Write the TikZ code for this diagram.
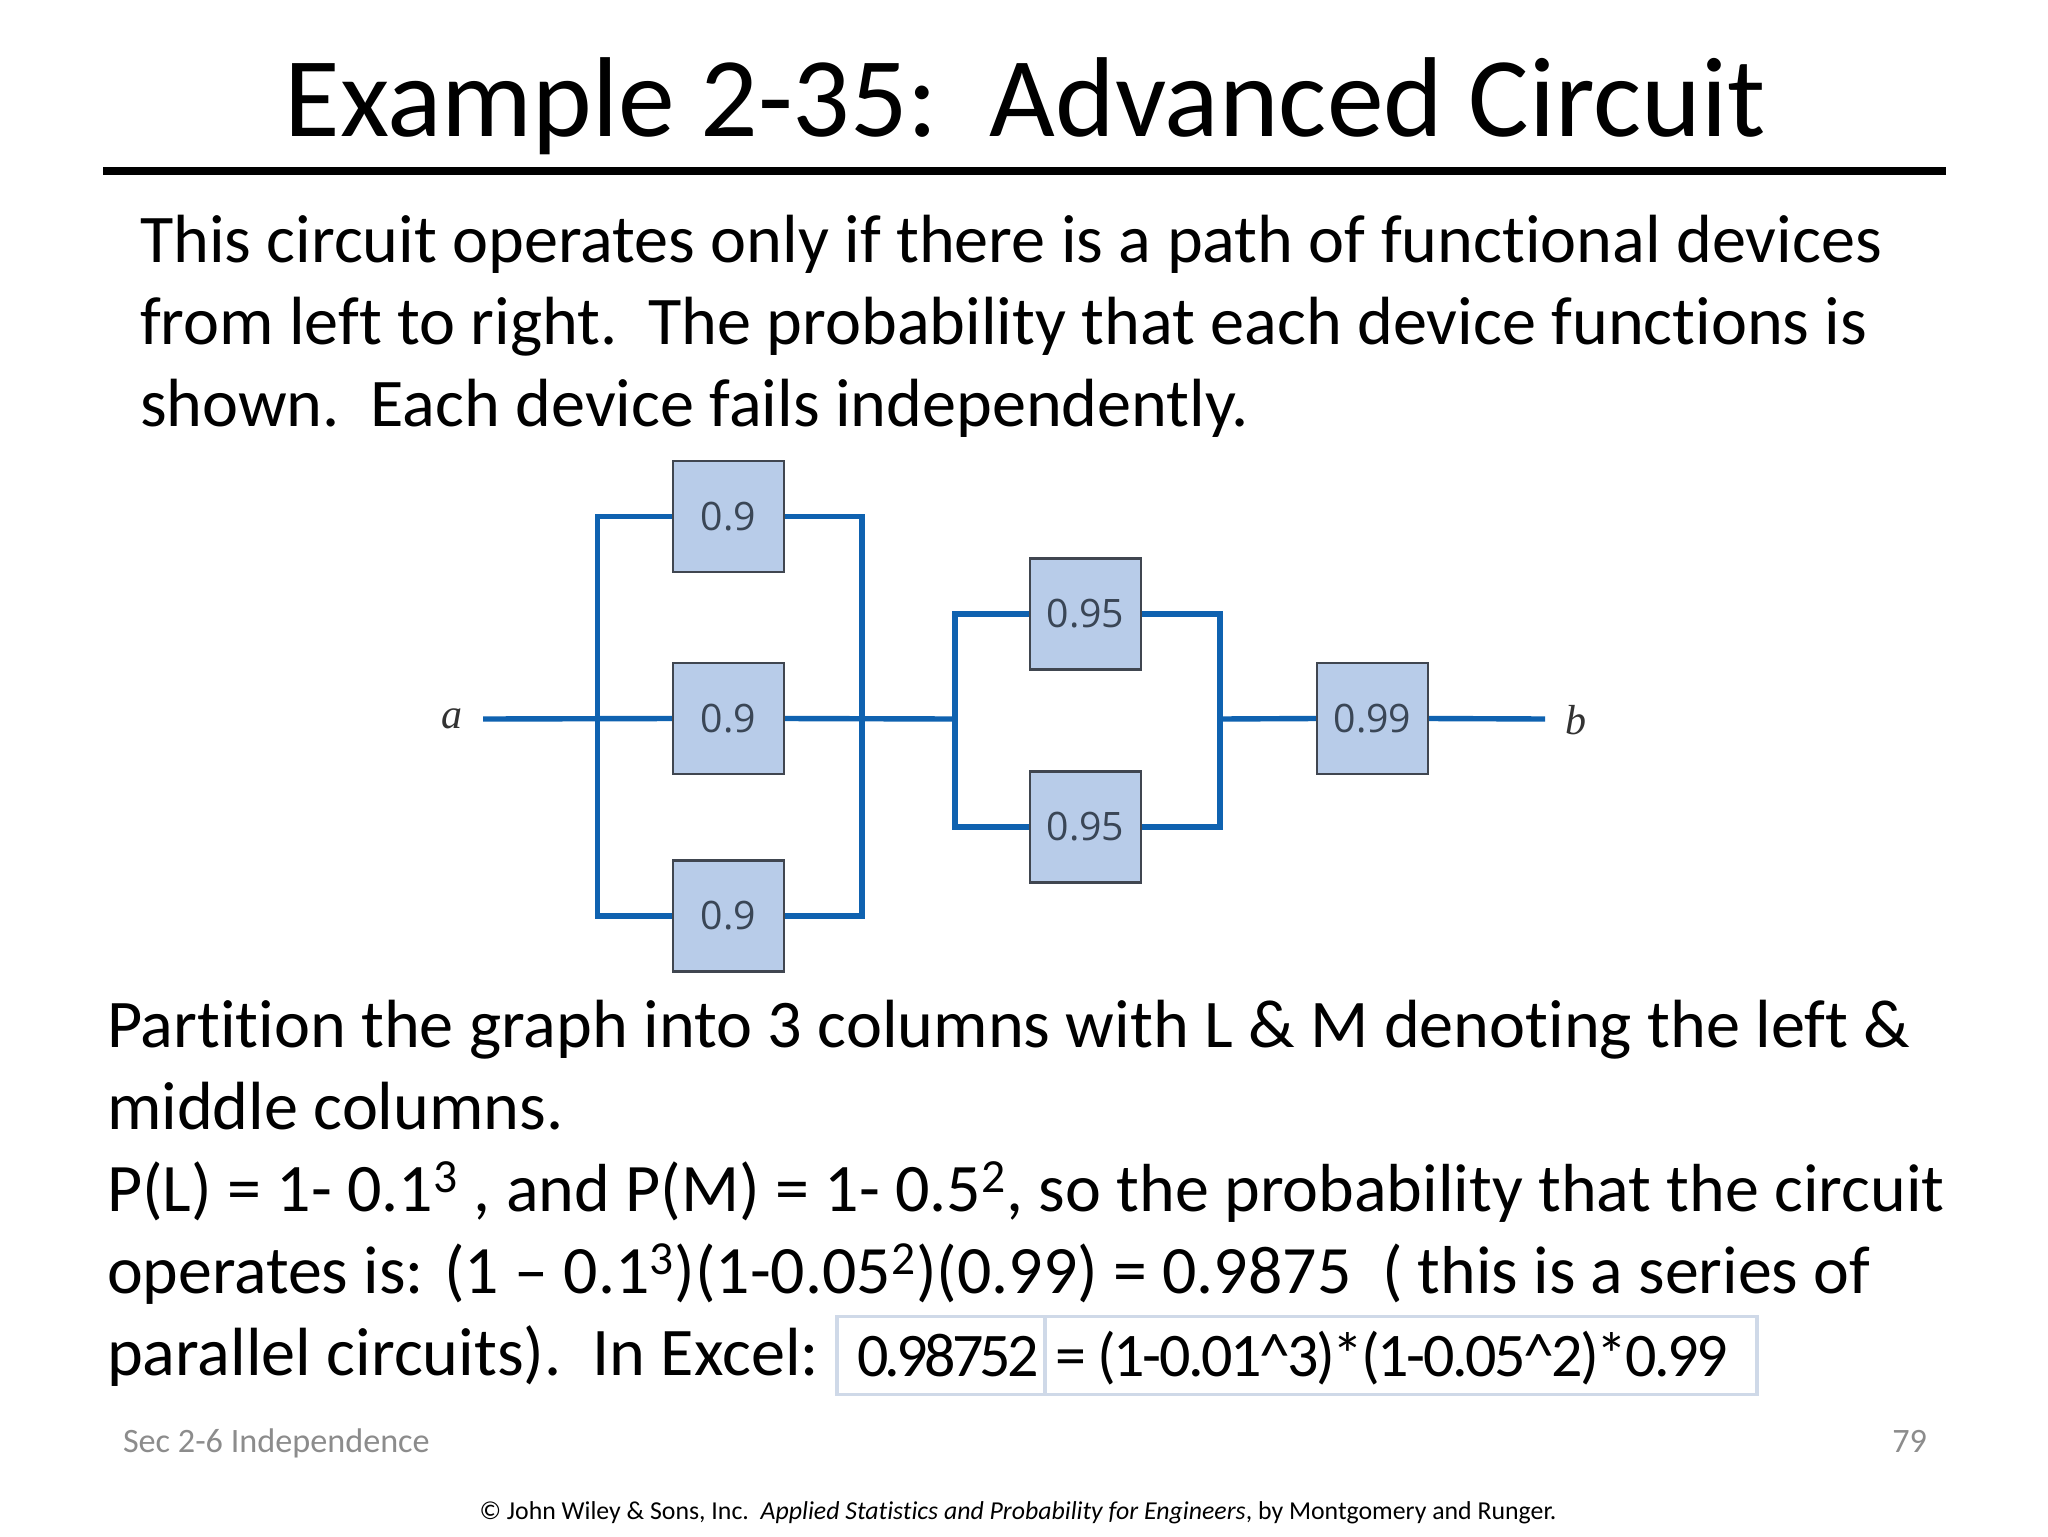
\documentclass[tikz,border=0pt]{standalone}
\usepackage{fontspec}
\setmainfont[Ligatures=NoCommon]{Carlito}
\newfontfamily\boxfont{Open Sans}
\newfontfamily\serifit{Liberation Serif}
\newfontfamily\tightfont[LetterSpace=-4]{Carlito}
\newfontfamily\tighterfont[LetterSpace=-6]{Carlito}
\definecolor{wire}{HTML}{0F62B0}
\definecolor{boxfill}{HTML}{B8CCE9}
\definecolor{boxline}{HTML}{404650}
\definecolor{boxtext}{HTML}{3A4656}
\definecolor{cellline}{HTML}{CFD9E8}
\definecolor{footgray}{HTML}{8C8C8C}
\newcommand{\fsz}[1]{\fontsize{#1}{#1}\selectfont}
\newcommand{\dsp}{\ \ }
\tikzset{
  txt/.style={anchor=base west,inner sep=0pt,outer sep=0pt,font=\fsz{34.1}},
  device/.style={draw=boxline,fill=boxfill,line width=1.2pt,minimum width=55.5pt,minimum height=55.5pt,inner sep=0pt,text=boxtext,font=\boxfont\fsz{19.6}},
  conn/.style={draw=wire,line width=2.7pt,line join=miter},
  term/.style={inner sep=0pt,text=black!80,font=\serifit\itshape\fsz{21}},
  foot/.style={inner sep=0pt,outer sep=0pt,font=\fsz{17.1},text=footgray},
  cell/.style={draw=cellline,line width=1.7pt,inner sep=0pt}
}
\begin{document}
\begin{tikzpicture}[x=0.5pt,y=-0.5pt]
\useasboundingbox (0,0) rectangle (2048,1536);
\fill[white] (0,0) rectangle (2048,1536);
% title
\node[anchor=base,inner sep=0pt,font=\fsz{56.8}] (title) at (1025,136) {Example 2-35:\dsp Advanced Circuit};
\coordinate (ruleL) at (103,171);
\coordinate (ruleR) at (1946,171);
\draw[line width=4pt] (ruleL) -- (ruleR);
% upper text
\node[txt] (t1) at (140,262) {This circuit operates only if there is a path of functional devices};
\node[txt] (t2) at (140,344) {from left to right.\dsp The probability that each device functions is};
\node[txt] (t3) at (140,426) {shown.\dsp Each device fails independently.};
% devices
\node[device] (L1) at (728.5,516.5) {0.9};
\node[device] (L2) at (728.5,718.5) {0.9};
\node[device] (L3) at (728.5,916) {0.9};
\node[device] (M1) at (1085.5,614) {0.95};
\node[device] (M2) at (1085.5,827) {0.95};
\node[device] (R)  at (1372.5,718.5) {0.99};
\node[term] (a) at (452,719) {a};
\node[term] (b) at (1576,720) {b};
\coordinate (aEnd) at (483,719);
\coordinate (bEnd) at (1545,719);
\coordinate (J1) at (597.5,719);
\coordinate (J2) at (862,719);
\coordinate (J3) at (955,719);
\coordinate (J4) at (1220,719);
% connectors
\draw[conn] (aEnd) -- (L2.west);
\draw[conn] (L2.east) -- (J3);
\draw[conn] (J4) -- (R.west);
\draw[conn] (R.east) -- (bEnd);
\draw[conn] (L1.west) -| (J1) |- (L3.west);
\draw[conn] (L1.east) -| (J2) |- (L3.east);
\draw[conn] (M1.west) -| (J3) |- (M2.west);
\draw[conn] (M1.east) -| (J4) |- (M2.east);
% lower text
\node[txt] (p1) at (107,1047) {Partition the graph into 3 columns with L \& M denoting the left \&};
\node[txt] (p2) at (107,1129) {middle columns.};
\node[txt,font=\fsz{34}] (p3) at (107,1211) {P(L) = 1- 0.1\textsuperscript{3} , and P(M) = 1- 0.5\textsuperscript{2}, so the probability that the circuit};
\node[txt,font=\fsz{33.9}] (p4) at (107,1293) {operates is: (1 – 0.1\textsuperscript{3})(1-0.05\textsuperscript{2})(0.99) = 0.9875\dsp ( this is a series of};
\node[txt] (p5) at (107,1375) {parallel circuits).\dsp In Excel:};
% excel cells
\node[cell,minimum width=104pt,minimum height=39pt] (c1) at (941,1355.5) {};
\node[cell,minimum width=356pt,minimum height=39pt] (c2) at (1401,1355.5) {};
\node[txt,font=\tighterfont\fsz{31}] (v1) at (857,1376) {0.98752};
\node[txt,font=\tightfont\fsz{31}] (v2) at (1055,1376) {= (1-0.01\textasciicircum 3)*(1-0.05\textasciicircum 2)*0.99};
% footer
\node[foot,anchor=base west] (sec) at (123,1452) {Sec 2-6 Independence};
\node[foot,anchor=base east] (num) at (1927,1452) {79};
\node[anchor=base,inner sep=0pt,font=\fsz{12.9}] (cr) at (1018,1519) {© John Wiley \& Sons, Inc.\dsp\textit{Applied Statistics and Probability for Engineers}, by Montgomery and Runger.};
\end{tikzpicture}
\end{document}
